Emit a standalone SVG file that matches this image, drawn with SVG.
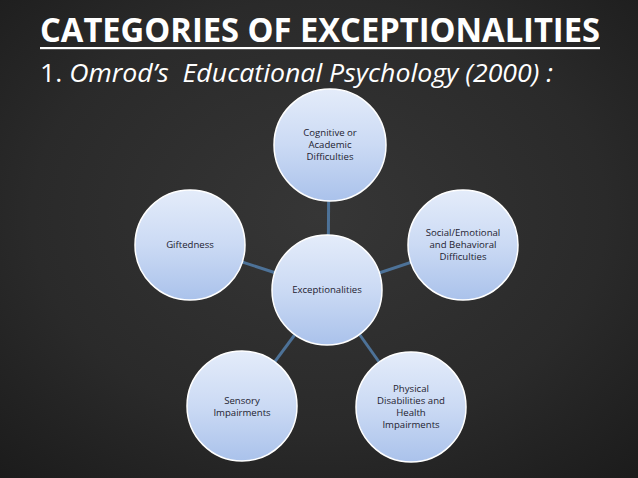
<svg xmlns="http://www.w3.org/2000/svg" width="638" height="478" viewBox="0 0 638 478">
  <defs>
    <radialGradient id="bg" cx="50%" cy="45%" r="75%">
      <stop offset="0" stop-color="#363636"/>
      <stop offset="0.6" stop-color="#2a2a2a"/>
      <stop offset="1" stop-color="#1b1b1b"/>
    </radialGradient>
    <linearGradient id="node" x1="0" y1="0" x2="0" y2="1">
      <stop offset="0" stop-color="#e4ecfa"/>
      <stop offset="0.5" stop-color="#cbdaf4"/>
      <stop offset="1" stop-color="#aac2eb"/>
    </linearGradient>
    <style>
      .title { font-family: "Open Sans", "Liberation Sans", sans-serif; font-weight: bold; font-size: 34px; fill: #ffffff; }
      .sub { font-family: "Open Sans", "Liberation Sans", sans-serif; font-size: 25px; fill: #ffffff; }
      .node circle { fill: url(#node); stroke: #ffffff; stroke-width: 1.5; }
      .node text { font-family: "Open Sans", "Liberation Sans", sans-serif; font-size: 9.6px; fill: #1e2230; text-anchor: middle; }
      .conn line { stroke: #4d7298; stroke-width: 3; }
    </style>
  </defs>
  <rect width="638" height="478" fill="url(#bg)"/>

  <text class="title" x="40" y="42" textLength="560" lengthAdjust="spacingAndGlyphs">CATEGORIES OF EXCEPTIONALITIES</text>
  <rect x="40" y="47" width="560" height="2.2" fill="#ffffff"/>
  <text class="sub" x="40" y="82" textLength="513" lengthAdjust="spacingAndGlyphs" xml:space="preserve">1. <tspan font-style="italic">Omrod’s  Educational Psychology (2000) :</tspan></text>

  <g class="conn">
    <line x1="329" y1="145" x2="328" y2="290"/>
    <line x1="190" y1="245" x2="328" y2="290"/>
    <line x1="463" y1="245" x2="328" y2="290"/>
    <line x1="242" y1="406" x2="328" y2="290"/>
    <line x1="411" y1="407" x2="328" y2="290"/>
  </g>

  <g id="n-cognitive" class="node">
    <circle cx="330" cy="145" r="56"/>
    <text x="330" y="136">Cognitive or</text>
    <text x="330" y="148">Academic</text>
    <text x="330" y="160">Difficulties</text>
  </g>
  <g id="n-social" class="node">
    <circle cx="463" cy="245" r="55"/>
    <text x="463" y="236">Social/Emotional</text>
    <text x="463" y="248">and Behavioral</text>
    <text x="463" y="260">Difficulties</text>
  </g>
  <g id="n-physical" class="node">
    <circle cx="411" cy="407" r="55"/>
    <text x="411" y="392">Physical</text>
    <text x="411" y="404">Disabilities and</text>
    <text x="411" y="416">Health</text>
    <text x="411" y="428">Impairments</text>
  </g>
  <g id="n-sensory" class="node">
    <circle cx="242" cy="406" r="55"/>
    <text x="242" y="404">Sensory</text>
    <text x="242" y="416">Impairments</text>
  </g>
  <g id="n-giftedness" class="node">
    <circle cx="190" cy="245" r="55"/>
    <text x="190" y="248">Giftedness</text>
  </g>
  <g id="n-center" class="node">
    <circle cx="327" cy="290" r="55"/>
    <text x="327" y="293">Exceptionalities</text>
  </g>
</svg>
